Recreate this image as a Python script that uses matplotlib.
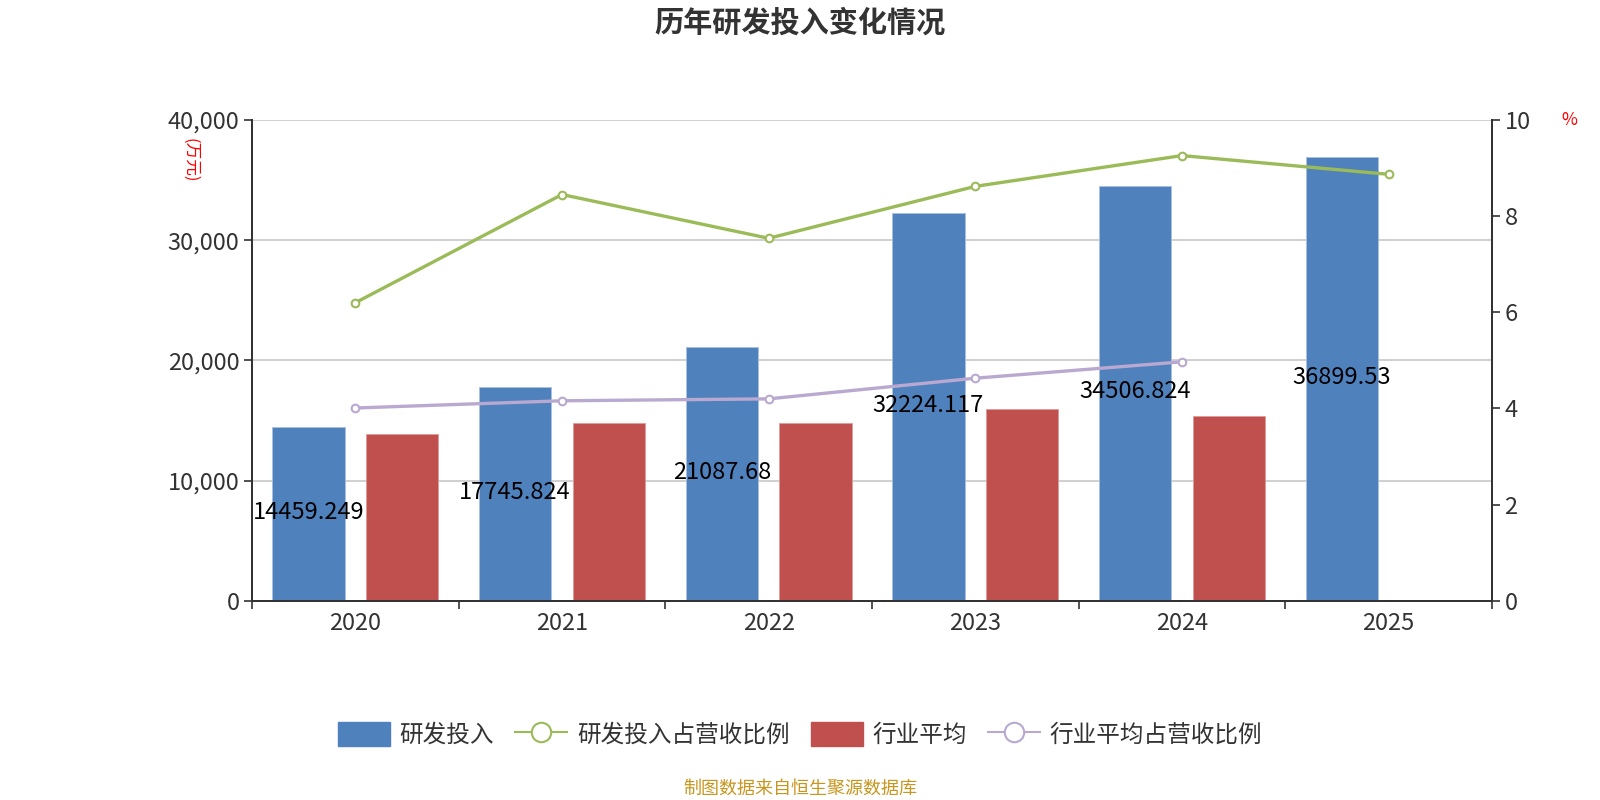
import matplotlib
matplotlib.use('Agg')
import matplotlib.pyplot as plt
from matplotlib.lines import Line2D
from matplotlib.patches import FancyBboxPatch
import numpy as np

plt.rcParams['font.family'] = ['Noto Sans CJK SC', 'DejaVu Sans']

years = ['2020', '2021', '2022', '2023', '2024', '2025']
rd_invest = [14459.249, 17745.824, 21087.68, 32224.117, 34506.824, 36899.53]
rd_ratio = [6.2, 8.45, 7.54, 8.62, 9.26, 8.87]
ind_avg = [13850, 14780, 14780, 15970, 15370]
ind_ratio = [4.01, 4.16, 4.20, 4.63, 4.97]

c_blue = '#4f81bd'
c_red = '#c0504d'
c_green = '#9bbb59'
c_purple = '#b9a9d0'

fig = plt.figure(figsize=(16, 8), dpi=100)
ax = fig.add_axes([0.1575, 0.249, 0.775, 0.601])
ax2 = ax.twinx()

x = np.arange(len(years))
w = 0.35
off = 0.227
ax.bar(x - off, rd_invest, width=w, color=c_blue, edgecolor='#a9c0e0', linewidth=0.6, zorder=2)
ax.bar(x[:len(ind_avg)] + off, ind_avg, width=w, color=c_red, edgecolor='#e09a98', linewidth=0.6, zorder=2)

# value labels sit at mid-height of the blue bars
for xi, v in zip(x, rd_invest):
    ax.text(xi - off, v / 2 + 150, str(v), ha='center', va='center', fontsize=17, color='black', zorder=5)

ax2.plot(x, rd_ratio, color=c_green, lw=2.4, marker='o', ms=5.5, mfc='white', mec=c_green, mew=1.5, zorder=4)
ax2.plot(x[:len(ind_ratio)], ind_ratio, color=c_purple, lw=2.4, marker='o', ms=5.5, mfc='white', mec=c_purple, mew=1.5, zorder=4)

ax.set_xlim(-0.5, 5.5)
ax.set_ylim(0, 40000)
ax2.set_ylim(0, 10)
ax.set_yticks([0, 10000, 20000, 30000, 40000])
ax.set_yticklabels(['0', '10,000', '20,000', '30,000', '40,000'])
ax2.set_yticks([0, 2, 4, 6, 8, 10])
ax.grid(axis='y', color='#c8c8c8', lw=1.2, zorder=0)
ax.set_axisbelow(True)

ax.set_xticks(x)
ax.set_xticklabels(years)
ax.set_xticks(np.arange(-0.5, 6, 1), minor=True)
ax.tick_params(axis='x', which='major', length=0, pad=8, labelsize=17, labelcolor='#333333')
ax.tick_params(axis='x', which='minor', length=6, width=1.2, color='#333333')
ax.tick_params(axis='y', length=6, width=1.2, color='#333333', labelsize=17, labelcolor='#333333', pad=3)
ax2.tick_params(axis='y', length=6, width=1.2, color='#333333', labelsize=17, labelcolor='#333333', pad=3)

for a in (ax, ax2):
    a.spines['top'].set_visible(False)
    for s in ('left', 'right', 'bottom'):
        a.spines[s].set_color('#333333')
        a.spines[s].set_linewidth(1.4)

fig.text(0.5, 0.972, '历年研发投入变化情况', ha='center', va='center', fontsize=21, fontweight='bold', color='#333333')
fig.text(0.119, 0.80, '(万元)', ha='center', va='center', rotation=-90, fontsize=12, color='red')
fig.text(0.981, 0.85, '%', ha='center', va='center', fontsize=12.5, color='red')
fig.text(0.5, 0.014, '制图数据来自恒生聚源数据库', ha='center', va='center', fontsize=13, color='#c8961e')

handles = [
    FancyBboxPatch((0, 0), 1, 1, color=c_blue),
    Line2D([], [], color=c_green, lw=1.5, marker='o', ms=14, mfc='white', mec=c_green, mew=1.5),
    FancyBboxPatch((0, 0), 1, 1, color=c_red),
    Line2D([], [], color=c_purple, lw=1.5, marker='o', ms=14, mfc='white', mec=c_purple, mew=1.5),
]
labels = ['研发投入', '研发投入占营收比例', '行业平均', '行业平均占营收比例']
fig.legend(handles, labels, loc='center', bbox_to_anchor=(0.5, 0.082), ncol=4, frameon=False,
           fontsize=17, handlelength=2.2, handleheight=1.2, columnspacing=0.9, handletextpad=0.4,
           labelcolor='#333333')

plt.savefig('out.png', dpi=100)
